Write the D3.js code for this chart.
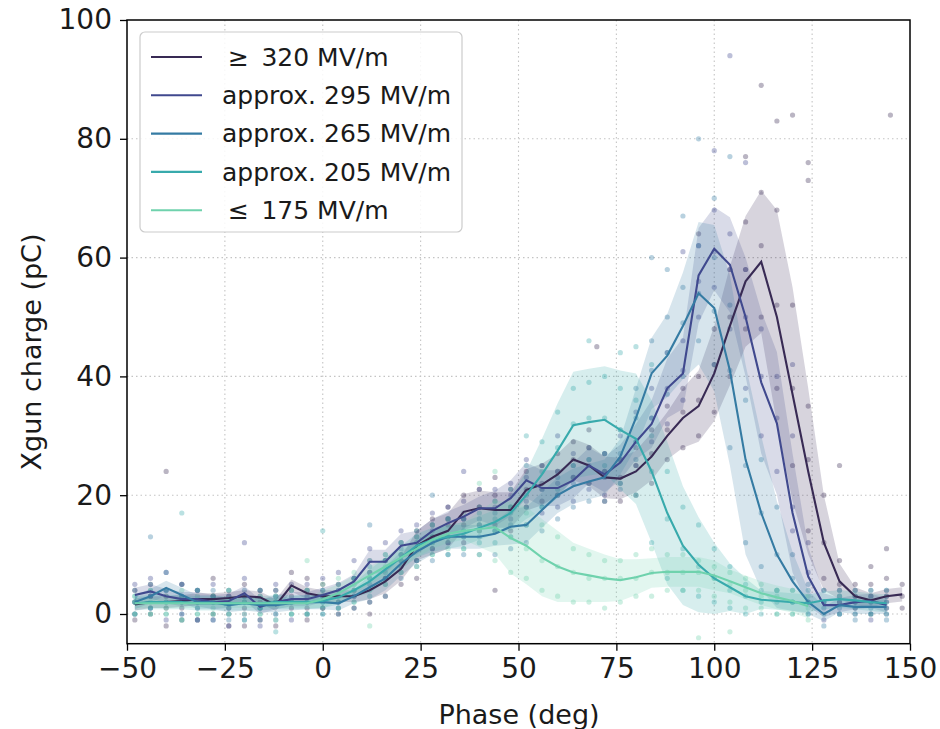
<!DOCTYPE html>
<html>
<head>
<meta charset="utf-8">
<script src="https://cdn.jsdelivr.net/npm/d3@7"></script>
<style>
  body { margin: 0; background: #fff; }
  svg { font-family: "DejaVu Sans", sans-serif; }
</style>
</head>
<body>
<svg id="chart" width="940" height="729"></svg>
<script>
// phase bins (deg) shared by all field levels
const phases = [-48, -44, -40, -36, -32, -28, -24, -20, -16, -12, -8, -4,
  0, 4, 8, 12, 16, 20, 24, 28, 32, 36, 40, 44, 48, 52, 56, 60, 64, 68, 72, 76,
  80, 84, 88, 92, 96, 100, 104, 108, 112, 116, 120, 124, 128, 132, 136, 140, 144, 148];

const labels = ['\u2265\u2002320 MV/m', 'approx. 295 MV/m', 'approx. 265 MV/m', 'approx. 205 MV/m', '\u2264\u2002175 MV/m'];
const colors = ['#382a54', '#40498e', '#357ba3', '#38aaac', '#6fd2ad'];

// mean charge per bin (pC)
const mean320 = [1.6, 2.0, 2.0, 2.2, 2.5, 2.5, 2.7, 3.0, 2.8, 1.5, 4.8, 3.5,
  3.0, 3.0, 3.0, 4.0, 5.5, 7.6, 11.5, 13, 14, 17.2, 17.8, 17.5, 17.5, 20.9, 21.8, 23.5, 26, 25, 23, 22.8,
  24, 26.5, 30, 33, 35, 40.5, 48.5, 56, 59.3, 50, 37, 24, 12, 5.5, 3, 2.3, 3.0, 3.3];
const mean295 = [3.2, 3.8, 3.0, 2.5, 2.5, 2.0, 2.2, 3.5, 1.2, 2.0, 2.5, 2.5,
  3.2, 4.0, 5.5, 8.8, 8.8, 11.5, 12, 14, 15.3, 16.4, 17.8, 17.8, 19.5, 22.5, 21.2, 21.2, 22.5, 25, 23.5, 25.5,
  29, 32, 38, 40.5, 57, 61.5, 58.8, 50, 39, 32.1, 17, 6.3, 1.5, 1.5, 2.0, 2.2, 1.5];
const mean265 = [2.0, 3.0, 4.4, 3.2, 2.0, 2.0, 1.5, 1.8, 1.5, 1.5, 1.8, 2.0,
  2.0, 1.8, 3.0, 4.5, 6.0, 8.5, 10.5, 12, 13, 13, 13, 13.5, 14.7, 15, 17.5, 20, 21.5, 22.3, 23, 26.5,
  33, 40.5, 43.5, 48.5, 54, 51.5, 41, 26, 17, 10, 5.5, 2, 0, 1.5, 1.2, 1.2, 1.2];
const mean205 = [1.8, 2.0, 2.0, 2.0, 1.8, 1.8, 1.8, 1.8, 1.8, 2.0, 2.0, 2.0,
  2.2, 2.8, 4.0, 5.5, 7.5, 9.5, 11.5, 12.5, 13, 13.5, 14.5, 15.5, 17, 20, 23.5, 27.5, 31.8, 32.3, 32.7, 31,
  29.5, 24, 17, 11.5, 8.3, 6, 4.5, 3, 2.4, 2.2, 2.0, 1.8, 2.3, 2.5, 2.3, 2.0, 1.8];
const mean175 = [1.8, 1.8, 1.8, 1.8, 1.8, 1.8, 1.8, 1.8, 1.8, 1.8, 1.8, 1.8,
  2.5, 3.5, 5, 6.5, 8, 9.5, 11, 12.5, 13.5, 14, 14.3, 14.6, 12.8, 11.5, 9.5, 8, 7, 6.5, 6, 5.7,
  6.2, 6.9, 7.1, 7.1, 7.1, 6.5, 5.5, 4.5, 3.5, 2.8, 2.2, 1.3];

// standard deviation per bin (pC)
const sd320 = [1, 1, 1, 1, 1, 1, 1, 1, 1, 1, 1, 1,
  1, 1, 1, 1.5, 2, 2, 2.5, 3, 3, 3, 3, 3, 3, 3.5, 3.5, 3.5, 3.5, 3.5, 3.5, 3.5,
  3.5, 4, 4, 5, 6, 8, 10, 11, 12, 18, 18, 14, 8, 3, 1.5, 1.2, 1.2, 1.2];
const sd295 = [1.2, 1.2, 1.2, 1.2, 1.2, 1.2, 1.2, 1.2, 1.2, 1.2, 1.2, 1.2,
  1.2, 1.2, 1.2, 2, 2, 2, 2, 2, 2, 2, 2, 3, 3, 3, 3, 3, 3, 3, 3, 3,
  3, 4, 5, 6, 8, 7, 8, 10, 12, 12, 10, 5, 2, 1.2, 1.2, 1.2, 1.2];
const sd265 = [1.2, 1.2, 1.2, 1.2, 1.2, 1.2, 1.2, 1.2, 1.2, 1.2, 1.2, 1.2,
  1.2, 1.2, 1.2, 2, 2, 2, 2, 2, 2, 2, 2, 2, 3, 3, 3, 3, 3, 3, 3, 3,
  5, 6, 7, 9, 12, 14, 16, 16, 13, 9, 5, 2, 1.2, 1.2, 1.2, 1.2, 1.2];
const sd205 = [1.2, 1.2, 1.2, 1.2, 1.2, 1.2, 1.2, 1.2, 1.2, 1.2, 1.2, 1.2,
  1.2, 1.2, 1.2, 2, 2, 2, 2, 2, 2, 2, 2, 2, 3, 4, 6, 8, 9, 9, 9, 10,
  11, 12, 12, 10, 8, 6, 4, 3, 1.5, 1.5, 1.5, 1.5, 1.5, 1.5, 1.5, 1.5, 1.5];
const sd175 = [0.8, 0.8, 0.8, 0.8, 0.8, 0.8, 0.8, 0.8, 0.8, 0.8, 0.8, 0.8,
  1.5, 1.5, 1.5, 1.5, 1.5, 1.5, 1.5, 1.5, 1.5, 1.5, 3, 4.5, 6, 6.5, 6.5, 6, 5, 4.5, 4, 3.5,
  3, 2.5, 2.5, 2.5, 2.5, 2.5, 2, 2, 2, 2, 2, 2];

// individual shots [phase, charge]
const shots320 = [[-48,4],[-48,-1],[-44,5],[-44,0],[-40,3],[-40,-2],[-36,5],[-36,1],[-32,4],[-32,-1],[-28,6],[-28,0],
  [-24,3],[-24,-2],[-20,5],[-20,1],[-16,4],[-16,-1],[-12,2],[-12,-2],[-8,7],[-8,3],[-4,6],[-4,1],[0,5],[0,1],
  [4,5],[4,0],[8,6],[8,1],[12,7],[12,2],[16,9],[16,3],[20,10],[20,5],[24,14],[24,9],[28,16],[28,11],[32,18],[32,12],
  [36,20],[36,15],[40,21],[40,14],[44,20],[44,15],[48,21],[48,14],[52,24],[52,18],[56,25],[56,19],[60,27],[60,20],
  [64,29],[64,23],[68,28],[68,22],[72,27],[72,19],[76,26],[76,19],[80,28],[80,20],[84,31],[84,22],[88,35],[88,26],
  [92,38],[92,28],[96,40],[96,30],[100,48],[100,34],[104,58],[104,40],[108,66],[108,48],[112,71],[112,50],
  [116,68],[116,38],[120,52],[120,25],[124,35],[124,14],[128,20],[128,6],[132,9],[132,2],[136,5],[136,1],
  [140,5],[140,0],[144,6],[144,1],[148,5],[148,1],[112,89],[116,83],[120,84],[108,77],[124,73],[124,76],
  [96,64],[-40,24],[44,4],[70,45],[132,25],[144,11],[140,8],[145,84],
  [-48,2],[-44,3],[-40,1],[-36,-1],[-32,2],[-28,3],[-24,1],[-20,-2],[-16,2],[-12,4],[-8,1],[-4,-1],[0,3],[4,2],
  [8,4],[12,0],[16,6],[20,8],[24,6],[28,13],[32,15],[36,12],[40,18],[44,23],[48,18],[52,21],[56,22],[60,24],
  [64,26],[68,31],[72,24],[76,23],[80,25],[84,27],[88,31],[92,34],[96,36],[100,42],[104,50],[108,58],[112,62],
  [116,52],[120,38],[124,26],[128,12],[132,5],[136,3],[140,3],[144,3],[148,3]];
const shots295 = [[-48,5],[-48,0],[-44,6],[-44,1],[-40,4],[-40,-1],[-36,5],[-36,0],[-32,4],[-32,-1],[-28,5],[-28,-1],
  [-24,4],[-24,0],[-20,6],[-20,0],[-16,4],[-16,-2],[-12,5],[-12,0],[-8,5],[-8,-1],[-4,5],[-4,0],[0,6],[0,1],
  [4,7],[4,1],[8,9],[8,3],[12,11],[12,6],[16,12],[16,6],[20,14],[20,9],[24,15],[24,9],[28,17],[28,11],[32,18],[32,12],
  [36,19],[36,13],[40,21],[40,15],[44,21],[44,14],[48,22],[48,16],[52,26],[52,19],[56,25],[56,17],[60,24],[60,18],
  [64,27],[64,19],[68,28],[68,21],[72,27],[72,20],[76,30],[76,22],[80,34],[80,25],[84,38],[84,29],[88,44],[88,32],
  [92,46],[92,36],[96,62],[96,50],[100,68],[100,55],[104,64],[104,48],[108,58],[108,38],[112,48],[112,30],
  [116,40],[116,24],[120,30],[120,14],[124,12],[124,2],[128,4],[128,-1],[132,4],[132,0],[136,4],[136,0],
  [140,4],[140,-1],[144,4],[144,0],[104,94],[100,78],[108,76],[92,61],[-20,12],[36,24],[60,30],[120,42],
  [-48,2],[-44,3],[-40,7],[-36,2],[-32,1],[-28,3],[-24,-2],[-20,3],[-16,1],[-12,3],[-8,2],[-4,3],[0,3],[4,4],
  [8,6],[12,9],[16,9],[20,12],[24,12],[28,14],[32,16],[36,16],[40,18],[44,18],[48,20],[52,23],[56,21],[60,22],
  [64,23],[68,25],[72,24],[76,26],[80,29],[84,33],[88,38],[92,41],[96,56],[100,61],[104,58],[108,50],[112,40],
  [116,33],[120,18],[124,7],[128,2],[132,2],[136,2],[140,2],[144,2]];
const shots265 = [[-48,4],[-48,0],[-44,5],[-44,1],[-40,7],[-40,2],[-36,5],[-36,0],[-32,4],[-32,-1],[-28,4],[-28,-1],
  [-24,3],[-24,-1],[-20,4],[-20,-1],[-16,3],[-16,-1],[-12,4],[-12,-1],[-8,4],[-8,0],[-4,4],[-4,0],[0,4],[0,0],
  [4,4],[4,0],[8,6],[8,1],[12,7],[12,2],[16,9],[16,3],[20,11],[20,6],[24,13],[24,8],[28,15],[28,9],[32,16],[32,10],
  [36,16],[36,10],[40,16],[40,10],[44,17],[44,10],[48,18],[48,11],[52,18],[52,12],[56,21],[56,14],[60,23],[60,16],
  [64,25],[64,18],[68,26],[68,19],[72,27],[72,19],[76,31],[76,21],[80,38],[80,26],[84,46],[84,33],[88,50],[88,37],
  [92,55],[92,40],[96,62],[96,46],[100,60],[100,42],[104,52],[104,28],[108,36],[108,12],[112,26],[112,8],
  [116,18],[116,4],[120,10],[120,2],[124,5],[124,0],[128,2],[128,-2],[132,3],[132,0],[136,3],[136,-1],
  [140,3],[140,0],[144,3],[144,-1],[-44,13],[96,80],[100,70],[104,77],[88,58],[92,67],[84,60],[12,15],[28,20],
  [-48,2],[-44,3],[-40,4],[-36,3],[-32,2],[-28,2],[-24,1],[-20,2],[-16,1],[-12,2],[-8,2],[-4,2],[0,2],[4,2],
  [8,3],[12,5],[16,6],[20,9],[24,11],[28,12],[32,13],[36,13],[40,13],[44,14],[48,15],[52,15],[56,18],[60,20],
  [64,22],[68,22],[72,23],[76,27],[80,33],[84,41],[88,44],[92,49],[96,54],[100,51],[104,41],[108,25],[112,17],
  [116,10],[120,6],[124,2],[128,1],[132,1],[136,1],[140,1],[144,1]];
const shots205 = [[-48,3],[-48,0],[-44,4],[-44,0],[-40,4],[-40,0],[-36,3],[-36,-1],[-32,4],[-32,0],[-28,3],[-28,0],
  [-24,4],[-24,0],[-20,3],[-20,-1],[-16,4],[-16,0],[-12,3],[-12,0],[-8,4],[-8,0],[-4,4],[-4,0],[0,4],[0,0],
  [4,5],[4,1],[8,6],[8,2],[12,8],[12,3],[16,10],[16,5],[20,12],[20,7],[24,14],[24,9],[28,15],[28,10],[32,16],[32,10],
  [36,16],[36,11],[40,17],[40,12],[44,19],[44,12],[48,21],[48,13],[52,25],[52,15],[56,29],[56,18],[60,34],[60,21],
  [64,38],[64,25],[68,39],[68,26],[72,40],[72,25],[76,38],[76,22],[80,36],[80,20],[84,30],[84,12],[88,24],[88,6],
  [92,18],[92,4],[96,15],[96,3],[100,11],[100,2],[104,8],[104,1],[108,5],[108,0],[112,4],[112,0],[116,4],[116,0],
  [120,4],[120,0],[124,4],[124,0],[128,4],[128,0],[132,4],[132,0],[136,4],[136,0],[140,4],[140,0],[144,4],[144,0],
  [80,45],[76,44],[84,42],[68,46],[52,30],[-36,17],[0,14],[-12,-3],
  [-48,2],[-44,1],[-40,2],[-36,2],[-32,1],[-28,2],[-24,2],[-20,2],[-16,1],[-12,2],[-8,2],[-4,2],[0,2],[4,3],
  [8,4],[12,6],[16,7],[20,10],[24,11],[28,13],[32,13],[36,14],[40,15],[44,16],[48,17],[52,20],[56,24],[60,28],
  [64,32],[68,33],[72,33],[76,31],[80,29],[84,24],[88,16],[92,11],[96,8],[100,6],[104,4],[108,3],[112,2],
  [116,2],[120,2],[124,2],[128,2],[132,3],[136,2],[140,2],[144,2]];
const shots175 = [[-48,3],[-48,0],[-44,4],[-44,0],[-40,3],[-40,0],[-36,4],[-36,-1],[-32,3],[-32,0],[-28,3],[-28,0],
  [-24,4],[-24,0],[-20,3],[-20,0],[-16,3],[-16,0],[-12,3],[-12,-1],[-8,4],[-8,0],[-4,4],[-4,0],[0,5],[0,1],
  [4,6],[4,1],[8,7],[8,2],[12,9],[12,4],[16,10],[16,5],[20,12],[20,7],[24,13],[24,8],[28,15],[28,10],[32,16],[32,11],
  [36,17],[36,11],[40,18],[40,10],[44,19],[44,9],[48,18],[48,7],[52,17],[52,6],[56,15],[56,4],[60,13],[60,3],
  [64,11],[64,2],[68,10],[68,2],[72,9],[72,1],[76,9],[76,2],[80,10],[80,3],[84,11],[84,3],[88,10],[88,4],
  [92,10],[92,4],[96,9],[96,4],[100,8],[100,3],[104,7],[104,2],[108,6],[108,1],[112,5],[112,1],[116,4],[116,0],
  [120,4],[120,0],[124,3],[124,-1],[40,22],[44,24],[12,-2],[-4,9],[96,-4],[104,-3],
  [-48,2],[-44,2],[-40,1],[-36,2],[-32,2],[-28,1],[-24,2],[-20,2],[-16,1],[-12,2],[-8,2],[-4,2],[0,3],[4,3],
  [8,5],[12,6],[16,8],[20,9],[24,11],[28,12],[32,13],[36,14],[40,14],[44,14],[48,13],[52,11],[56,9],[60,8],
  [64,7],[68,6],[72,6],[76,6],[80,6],[84,7],[88,7],[92,7],[96,7],[100,6],[104,5],[108,4],[112,3],[116,3],
  [120,2],[124,1]];

const xTicks = [-50, -25, 0, 25, 50, 75, 100, 125, 150];
const yTicks = [0, 20, 40, 60, 80, 100];

const means = [mean320, mean295, mean265, mean205, mean175];
const sds = [sd320, sd295, sd265, sd205, sd175];
const shots = [shots320, shots295, shots265, shots205, shots175];

const series = labels.map((label, i) => ({
  label: label,
  color: colors[i],
  points: means[i].map((m, j) => ({ x: phases[j], y: m, lo: m - sds[i][j], hi: m + sds[i][j] })),
  shots: shots[i]
}));

const svg = d3.select('#chart');
const plotLeft = 127, plotRight = 910, plotTop = 20, plotBottom = 643.7;

const x = d3.scaleLinear().domain([-50, 150]).range([plotLeft, plotRight]);
const y = d3.scaleLinear().domain([-5, 100]).range([plotBottom, plotTop]);

svg.append('defs').append('clipPath').attr('id', 'plot-clip')
  .append('rect')
  .attr('x', plotLeft).attr('y', plotTop)
  .attr('width', plotRight - plotLeft).attr('height', plotBottom - plotTop);

// dotted grid
const grid = svg.append('g').attr('class', 'grid');
grid.selectAll('line.gx')
  .data(xTicks.slice(1, -1))
  .enter().append('line')
  .attr('x1', d => x(d)).attr('x2', d => x(d))
  .attr('y1', plotTop).attr('y2', plotBottom)
  .attr('stroke', '#c4c4c4').attr('stroke-width', 1.1)
  .attr('stroke-dasharray', '1.5,3');
grid.selectAll('line.gy')
  .data(yTicks.slice(0, -1))
  .enter().append('line')
  .attr('x1', plotLeft).attr('x2', plotRight)
  .attr('y1', d => y(d)).attr('y2', d => y(d))
  .attr('stroke', '#c4c4c4').attr('stroke-width', 1.1)
  .attr('stroke-dasharray', '1.5,3');

const plot = svg.append('g').attr('clip-path', 'url(#plot-clip)');

// shots
series.forEach(s => {
  plot.append('g').selectAll('circle')
    .data(s.shots)
    .enter().append('circle')
    .attr('cx', d => x(d[0]))
    .attr('cy', d => y(d[1]))
    .attr('r', 2.6)
    .attr('fill', s.color)
    .attr('fill-opacity', 0.35);
});

// std bands
const area = d3.area()
  .x(d => x(d.x))
  .y0(d => y(d.lo))
  .y1(d => y(d.hi));
series.forEach(s => {
  plot.append('path')
    .datum(s.points)
    .attr('d', area)
    .attr('fill', s.color)
    .attr('fill-opacity', 0.2);
});

// mean lines
const line = d3.line()
  .x(d => x(d.x))
  .y(d => y(d.y));
series.forEach(s => {
  plot.append('path')
    .datum(s.points)
    .attr('d', line)
    .attr('fill', 'none')
    .attr('stroke', s.color)
    .attr('stroke-width', 2.1);
});

// axes
const xAxis = d3.axisBottom(x).tickValues(xTicks).tickSize(7).tickPadding(7)
  .tickFormat(d => d < 0 ? '\u2212' + Math.abs(d) : d);
const yAxis = d3.axisLeft(y).tickValues(yTicks).tickSize(7).tickPadding(8);

const gx = svg.append('g').attr('transform', `translate(0,${plotBottom})`).call(xAxis);
const gy = svg.append('g').attr('transform', `translate(${plotLeft},0)`).call(yAxis);
[gx, gy].forEach(g => {
  g.select('.domain').remove();
  g.selectAll('.tick line').attr('stroke', '#000').attr('stroke-width', 1.3);
  g.selectAll('.tick text').attr('fill', '#1a1a1a').attr('font-size', 28)
    .attr('font-family', '"DejaVu Sans", sans-serif');
});

// frame
svg.append('rect')
  .attr('x', plotLeft).attr('y', plotTop)
  .attr('width', plotRight - plotLeft).attr('height', plotBottom - plotTop)
  .attr('fill', 'none').attr('stroke', '#000').attr('stroke-width', 1.5);

// axis labels
svg.append('text')
  .attr('x', 519).attr('y', 724)
  .attr('text-anchor', 'middle')
  .attr('font-size', 27).attr('fill', '#1a1a1a')
  .text('Phase (deg)');
svg.append('text')
  .attr('transform', `translate(41,352) rotate(-90)`)
  .attr('text-anchor', 'middle')
  .attr('font-size', 27).attr('fill', '#1a1a1a')
  .text('Xgun charge (pC)');

// legend
const legend = svg.append('g');
legend.append('rect')
  .attr('x', 140).attr('y', 32)
  .attr('width', 322).attr('height', 200)
  .attr('rx', 5)
  .attr('fill', '#fff').attr('fill-opacity', 0.85)
  .attr('stroke', '#cccccc').attr('stroke-width', 1.2);
const rows = legend.selectAll('g.row')
  .data(series)
  .enter().append('g')
  .attr('transform', (d, i) => `translate(0,${57 + i * 38.3})`);
rows.append('line')
  .attr('x1', 151).attr('x2', 202)
  .attr('stroke', d => d.color).attr('stroke-width', 2.1);
rows.append('text')
  .attr('x', (d, i) => (i === 0 || i === 4) ? 228 : 222)
  .attr('dy', '0.35em')
  .attr('font-size', 25).attr('fill', '#1a1a1a')
  .text(d => d.label);
</script>
</body>
</html>
